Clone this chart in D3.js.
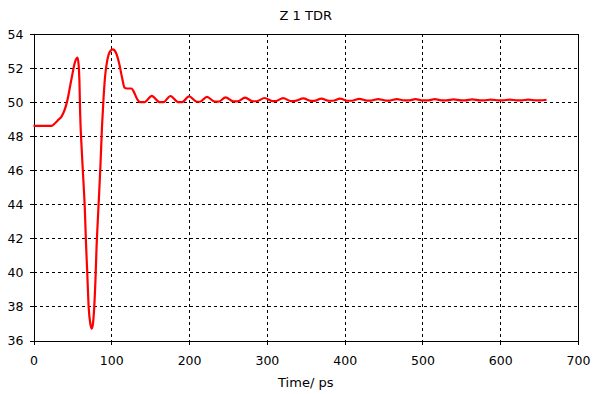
<!DOCTYPE html>
<html>
<head>
<meta charset="utf-8">
<script src="https://cdn.jsdelivr.net/npm/d3@7"></script>
<style>
  body { margin: 0; background: #fff; }
  svg { display: block; font-family: "DejaVu Sans", sans-serif; }
  .grid line { stroke: #000; stroke-dasharray: 3,3; shape-rendering: crispEdges; }
  .axis path, .axis line { stroke: #000; shape-rendering: crispEdges; }
  .axis text { font-size: 12.5px; fill: #000; font-family: "DejaVu Sans", sans-serif; }
</style>
</head>
<body>
<svg id="chart" width="598" height="394"></svg>
<script>
// TDR trace: time (ps) and impedance (ohm)
const times = [0, 23, 27.6, 32, 36, 43, 49, 53, 55, 56.5, 58, 59, 60, 62, 64, 66, 67.5, 69, 71, 73, 75, 76.5, 78, 80, 81, 82.5, 84, 86, 88, 90, 92, 95, 98, 102, 106, 110, 114, 117, 120, 126, 129, 133, 137,
  143, 152, 162, 167, 176, 186, 191, 200, 210, 214, 223, 233, 238, 247, 257, 262, 272, 282, 287, 297, 307, 311, 321, 331, 336,
  347, 357, 361, 370, 380, 385, 394, 404, 409, 419, 429, 434, 443, 453, 458, 467, 477, 482, 491, 501, 506, 516, 526, 531,
  540, 550, 555, 564, 574, 579, 588, 598, 603, 612, 622, 627, 636, 646, 651, 659.6];
const impedance = [48.6, 48.6, 48.76, 48.96, 49.15, 50.0, 51.4, 52.3, 52.55, 52.62, 52.2, 51.3, 49.3, 47.2, 45.5, 43.7, 41.7, 40.1, 37.9, 37.0, 36.7, 37.0, 37.9, 40.0, 41.4, 42.9, 44.3, 46.2, 48.5, 50.2, 51.5, 52.5, 52.95, 53.1, 52.9, 52.3, 51.4, 50.85, 50.8, 50.8, 50.6, 50.2, 50.0,
  50.0, 50.37, 50.0, 50.0, 50.36, 50.0, 50.0, 50.34, 50.02, 50.02, 50.31, 50.03, 50.03, 50.28, 50.04, 50.04, 50.26, 50.05, 50.05, 50.24, 50.06, 50.06, 50.23, 50.06, 50.07,
  50.22, 50.07, 50.07, 50.21, 50.08, 50.08, 50.2, 50.08, 50.08, 50.19, 50.09, 50.09, 50.18, 50.09, 50.09, 50.18, 50.1, 50.1, 50.17, 50.1, 50.1, 50.17, 50.1, 50.1,
  50.16, 50.1, 50.1, 50.16, 50.1, 50.1, 50.15, 50.1, 50.1, 50.15, 50.1, 50.1, 50.15, 50.1, 50.1, 50.14];
const xTicks = [0, 100, 200, 300, 400, 500, 600, 700];
const yTicks = [36, 38, 40, 42, 44, 46, 48, 50, 52, 54];

const svg = d3.select('#chart');
const plotL = 33.5, plotR = 578, plotT = 34, plotB = 340.5;

const x = d3.scaleLinear().domain([0, 700]).range([plotL, plotR]);
const y = d3.scaleLinear().domain([36, 54]).range([plotB, plotT]);

// dashed grid
const grid = svg.append('g').attr('class', 'grid');
grid.selectAll('.vx')
  .data(xTicks.slice(1, -1))
  .enter().append('line')
  .attr('x1', d => Math.round(x(d)) + 0.5).attr('x2', d => Math.round(x(d)) + 0.5)
  .attr('y1', plotT).attr('y2', plotB);
grid.selectAll('.hy')
  .data(yTicks.slice(1, -1))
  .enter().append('line')
  .attr('y1', d => Math.round(y(d)) + 0.5).attr('y2', d => Math.round(y(d)) + 0.5)
  .attr('x1', plotL).attr('x2', plotR);

// frame
svg.append('rect')
  .attr('x', Math.round(plotL) + 0.5).attr('y', Math.round(plotT) + 0.5)
  .attr('width', Math.round(plotR) - Math.round(plotL))
  .attr('height', Math.round(plotB) - Math.round(plotT))
  .attr('fill', 'none').attr('stroke', '#000')
  .attr('shape-rendering', 'crispEdges');

// axes
svg.append('g')
  .attr('class', 'axis')
  .attr('transform', `translate(0,${plotB})`)
  .call(d3.axisBottom(x).tickValues(xTicks).tickSize(4).tickPadding(12).tickFormat(d3.format('d')))
  .call(g => g.select('.domain').remove());

svg.append('g')
  .attr('class', 'axis')
  .attr('transform', `translate(${plotL},0)`)
  .call(d3.axisLeft(y).tickValues(yTicks).tickSize(4).tickPadding(6).tickFormat(d3.format('d')))
  .call(g => g.select('.domain').remove());

// trace
const pts = times.map((t, i) => [t, impedance[i]]);
svg.append('path')
  .datum(pts)
  .attr('fill', 'none')
  .attr('stroke', '#ff0000')
  .attr('stroke-width', 2.2)
  .attr('d', d3.line()
    .x(d => x(d[0]))
    .y(d => y(d[1]))
    .curve(d3.curveMonotoneX));

// labels
svg.append('text')
  .attr('x', (plotL + plotR) / 2).attr('y', 20)
  .attr('text-anchor', 'middle')
  .attr('font-size', 13)
  .text('Z 1 TDR');

svg.append('text')
  .attr('x', (plotL + plotR) / 2).attr('y', 387)
  .attr('text-anchor', 'middle')
  .attr('font-size', 13)
  .text('Time/ ps');
</script>
</body>
</html>
